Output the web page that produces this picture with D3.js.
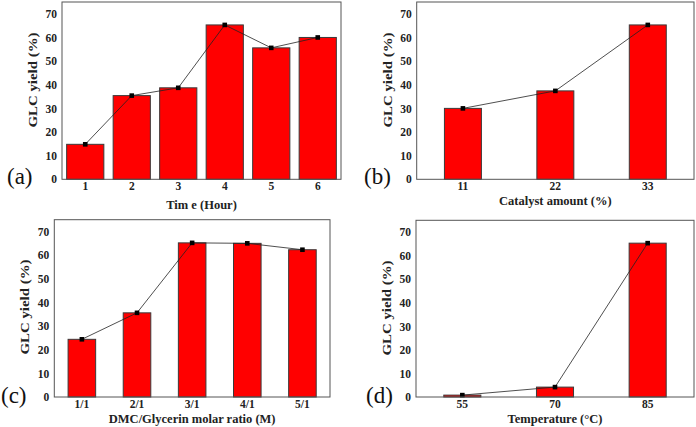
<!DOCTYPE html>
<html>
<head>
<meta charset="utf-8">
<script src="https://cdn.jsdelivr.net/npm/d3@7"></script>
<style>
  html, body { margin: 0; padding: 0; background: #fff; }
  svg { display: block; font-family: "Liberation Serif", "Times New Roman", serif; }
</style>
</head>
<body>
<svg id="fig" width="696" height="427"></svg>
<script>
// (a) reaction time
const timeCats  = ["1", "2", "3", "4", "5", "6"];
const timeYield = [14.8, 35.4, 38.7, 65.3, 55.6, 60.0];
// (b) catalyst amount
const catalystCats  = ["11", "22", "33"];
const catalystYield = [30.0, 37.4, 65.3];
// (c) DMC / glycerin ratio
const ratioCats  = ["1/1", "2/1", "3/1", "4/1", "5/1"];
const ratioYield = [24.4, 35.6, 65.2, 65.0, 62.3];
// (d) temperature
const tempCats  = ["55", "70", "85"];
const tempYield = [0.8, 4.2, 65.3];

const yTicks = [0, 10, 20, 30, 40, 50, 60, 70];
const yMax = 75;

const panels = [
  { tag: "(a)", cats: timeCats, vals: timeYield, xTitle: "Tim e (Hour)",
    x0: 62, x1: 341, top: 2, bottom: 179.3, pin: 0.2, pout: 0.1,
    xTitleY: 30, yTitleC: 80, tagX: 7, tagY: 184 },
  { tag: "(b)", cats: catalystCats, vals: catalystYield, xTitle: "Catalyst amount (%)",
    x0: 416.7, x1: 694, top: 2, bottom: 179.3, pin: 0.6, pout: 0.3,
    xTitleY: 25.5, yTitleC: 80, tagX: 364, tagY: 184 },
  { tag: "(c)", cats: ratioCats, vals: ratioYield, xTitle: "DMC/Glycerin molar ratio (M)",
    x0: 54.3, x1: 330, top: 219.7, bottom: 397, pin: 0.5, pout: 0.25,
    xTitleY: 26, yTitleC: 307, tagX: 1, tagY: 403 },
  { tag: "(d)", cats: tempCats, vals: tempYield, xTitle: "Temperature (°C)",
    x0: 416, x1: 694, top: 220.3, bottom: 397, pin: 0.6, pout: 0.3,
    xTitleY: 25.5, yTitleC: 308, tagX: 366, tagY: 403 }
];

const svg = d3.select("#fig");

panels.forEach(p => {
  const g = svg.append("g");

  const x = d3.scaleBand()
    .domain(p.cats)
    .range([p.x0, p.x1])
    .paddingInner(p.pin)
    .paddingOuter(p.pout);

  const y = d3.scaleLinear()
    .domain([0, yMax])
    .range([p.bottom, p.top]);

  // bars
  g.selectAll("rect.bar")
    .data(p.vals)
    .join("rect")
    .attr("class", "bar")
    .attr("x", (d, i) => x(p.cats[i]))
    .attr("width", x.bandwidth())
    .attr("y", d => y(d))
    .attr("height", d => y(0) - y(d))
    .attr("fill", "#ff0000")
    .attr("stroke", "#3a3a3a")
    .attr("stroke-width", 1);

  // connecting line + square markers
  const line = d3.line()
    .x((d, i) => x(p.cats[i]) + x.bandwidth() / 2)
    .y(d => y(d));

  g.append("path")
    .datum(p.vals)
    .attr("d", line)
    .attr("fill", "none")
    .attr("stroke", "#222")
    .attr("stroke-width", 0.8);

  g.selectAll("rect.mk")
    .data(p.vals)
    .join("rect")
    .attr("class", "mk")
    .attr("x", (d, i) => x(p.cats[i]) + x.bandwidth() / 2 - 2.3)
    .attr("y", d => y(d) - 2.3)
    .attr("width", 4.6)
    .attr("height", 4.6)
    .attr("fill", "#000");

  // frame
  g.append("rect")
    .attr("x", p.x0)
    .attr("y", p.top)
    .attr("width", p.x1 - p.x0)
    .attr("height", p.bottom - p.top)
    .attr("fill", "none")
    .attr("stroke", "#555")
    .attr("stroke-width", 1);

  // y axis
  const yAxis = g.append("g")
    .attr("transform", `translate(${p.x0},0)`)
    .call(d3.axisLeft(y).tickValues(yTicks).tickSize(0).tickPadding(5));
  yAxis.select(".domain").remove();
  yAxis.selectAll("text")
    .attr("font-family", "Liberation Serif, serif")
    .attr("font-weight", "bold")
    .attr("font-size", 11.5)
    .attr("fill", "#222");

  // x axis
  const xAxis = g.append("g")
    .attr("transform", `translate(0,${p.bottom})`)
    .call(d3.axisBottom(x).tickSize(0).tickPadding(3));
  xAxis.select(".domain").remove();
  xAxis.selectAll("text")
    .attr("font-family", "Liberation Serif, serif")
    .attr("font-weight", "bold")
    .attr("font-size", 11.5)
    .attr("fill", "#222");

  // titles
  g.append("text")
    .attr("x", (p.x0 + p.x1) / 2)
    .attr("y", p.bottom + p.xTitleY)
    .attr("text-anchor", "middle")
    .attr("font-weight", "bold")
    .attr("font-size", 12.5)
    .attr("fill", "#222")
    .text(p.xTitle);

  g.append("text")
    .attr("transform", `translate(${p.x0 - 29},${p.yTitleC}) rotate(-90)`)
    .attr("text-anchor", "middle")
    .attr("dominant-baseline", "central")
    .attr("font-weight", "bold")
    .attr("font-size", 12)
    .attr("textLength", 95)
    .attr("lengthAdjust", "spacingAndGlyphs")
    .attr("fill", "#222")
    .text("GLC yield (%)");

  g.append("text")
    .attr("x", p.tagX)
    .attr("y", p.tagY)
    .attr("font-size", 23)
    .attr("fill", "#111")
    .text(p.tag);
});
</script>
</body>
</html>
